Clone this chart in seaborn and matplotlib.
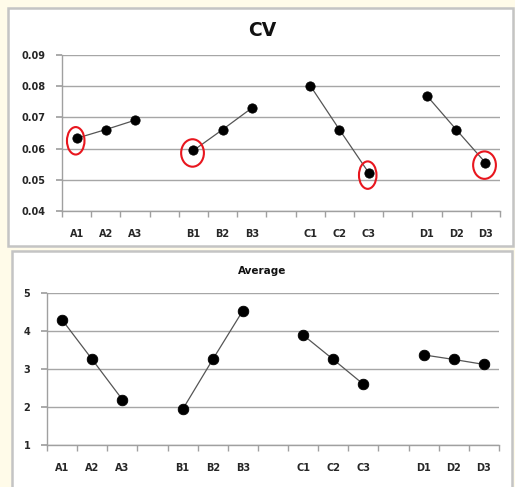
import pandas as pd
import matplotlib
matplotlib.use("Agg")
import matplotlib.pyplot as plt
import seaborn as sns
from matplotlib.patches import Rectangle, Ellipse

# Data
groups = ["A", "B", "C", "D"]
levels = ["1", "2", "3"]
cv_values = [0.0633, 0.0661, 0.0691,
             0.0594, 0.0661, 0.0730,
             0.0802, 0.0661, 0.0523,
             0.0769, 0.0661, 0.0555]
avg_values = [4.29, 3.25, 2.20,
              1.94, 3.25, 4.53,
              3.89, 3.25, 2.60,
              3.37, 3.25, 3.12]
circled = ["A1", "B1", "C3", "D3"]

BG = "#FFFBE9"
GRID = "#A6A6A6"
TXT = "#262626"


def build_frame(values):
    rows = []
    for gi, g in enumerate(groups):
        for li, lv in enumerate(levels):
            rows.append({"group": g, "label": g + lv,
                         "pos": gi * 4 + li, "value": values[gi * 3 + li]})
    return pd.DataFrame(rows)


def style_axis(ax, ymin, ymax, ystep, fmt):
    ax.set_xlim(-0.5, 14.5)
    ax.set_ylim(ymin, ymax)
    yt = [ymin + i * ystep for i in range(int(round((ymax - ymin) / ystep)) + 1)]
    ax.set_yticks(yt)
    ax.set_yticklabels([fmt.format(v) for v in yt], fontweight="semibold")
    ax.grid(axis="y", color=GRID, linewidth=1.0)
    ax.grid(axis="x", visible=False)
    ax.set_axisbelow(True)
    for s in ["top", "right"]:
        ax.spines[s].set_visible(False)
    for s in ["left", "bottom"]:
        ax.spines[s].set_color("#A0A0A0")
        ax.spines[s].set_linewidth(1.0)
    ax.set_xlabel("")
    ax.set_ylabel("")
    ax.set_facecolor("white")
    ax.tick_params(axis="y", left=True, length=4, color="#A0A0A0",
                   labelsize=7, labelcolor=TXT, pad=8)
    ax.set_xticks([i - 0.5 for i in range(16)], minor=True)
    ax.tick_params(axis="x", which="minor", bottom=True, length=4,
                   color="#A0A0A0")
    ax.tick_params(axis="x", which="major", length=0, labelsize=7,
                   labelcolor=TXT, pad=13)


def draw_panel(ax, df, msize):
    sns.lineplot(data=df, x="pos", y="value", hue="group", ax=ax,
                 palette=["#555555"] * 4, linewidth=0.9, legend=False)
    sns.scatterplot(data=df, x="pos", y="value", ax=ax, color="black",
                    s=msize, marker="o", edgecolor="black", zorder=5,
                    legend=False)
    ax.set_xticks(df["pos"].tolist())
    ax.set_xticklabels(df["label"].tolist(), fontweight="semibold")


sns.set_theme(style="white")
plt.rcParams["font.family"] = ["DejaVu Sans"]

fig = plt.figure(figsize=(5.15, 4.87), dpi=100, facecolor=BG)

# panel boxes
fig.patches.append(Rectangle((8 / 515, 1 - 246 / 487), 505 / 515, 238 / 487,
                             transform=fig.transFigure, facecolor="white",
                             edgecolor="#C4C4C4", linewidth=1.8, zorder=-5))
fig.patches.append(Rectangle((12 / 515, 1 - 492 / 487), 500 / 515, 241 / 487,
                             transform=fig.transFigure, facecolor="white",
                             edgecolor="#C4C4C4", linewidth=1.8, zorder=-5))

ax1 = fig.add_axes([62 / 515, 1 - 211 / 487, 438 / 515, 156 / 487])
ax2 = fig.add_axes([47 / 515, 1 - 445.3 / 487, 452 / 515, 152.6 / 487])
ax1.set_zorder(2)
ax2.set_zorder(2)

cv_df = build_frame(cv_values)
avg_df = build_frame(avg_values)

draw_panel(ax1, cv_df, 45)
style_axis(ax1, 0.04, 0.09, 0.01, "{:.2f}")
draw_panel(ax2, avg_df, 58)
style_axis(ax2, 1, 5, 1, "{:.0f}")

# red ellipses around chosen points
for lab in circled:
    r = cv_df[cv_df["label"] == lab].iloc[0]
    w = 0.78 if lab in ("B1", "D3") else 0.6
    ax1.add_patch(Ellipse((r["pos"] - 0.03, r["value"] - 0.0008), w, 0.0088,
                          facecolor="none", edgecolor="#E8161E",
                          linewidth=1.5, zorder=6))

fig.text(262 / 515, 1 - 30 / 487, "CV", ha="center", va="center",
         fontsize=13.5, fontweight="bold", color="#111111", zorder=3)
fig.text(262 / 515, 1 - 271 / 487, "Average", ha="center", va="center",
         fontsize=7.5, fontweight="bold", color="#111111", zorder=3)

fig.savefig("out.png", dpi=100, facecolor=BG)
